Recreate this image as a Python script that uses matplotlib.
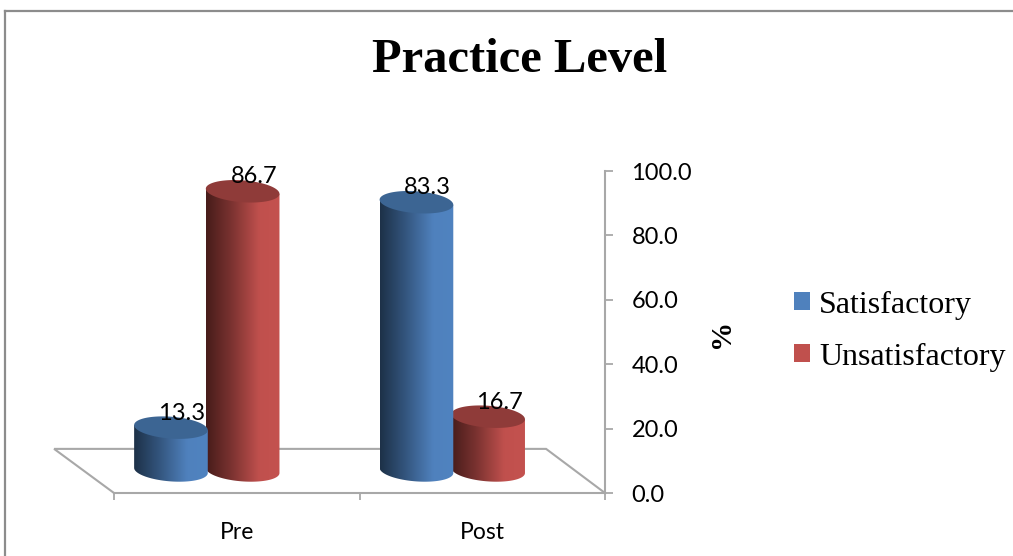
import numpy as np
import matplotlib

matplotlib.use("Agg")
import matplotlib.pyplot as plt
from matplotlib.colors import LinearSegmentedColormap
from matplotlib.lines import Line2D
from matplotlib.patches import Patch, Polygon

TITLE = "Practice Level"
categories = ["Pre", "Post"]
satisfactory = [13.3, 83.3]
unsatisfactory = [86.7, 16.7]
y_ticks = [0, 20, 40, 60, 80, 100]

GREY = "#a8a8a8"
BLUE = ["#1d3148", "#34567f", "#4f81bd", "#5083c0"]
RED = ["#471c1a", "#7c3331", "#c0504d", "#c4524f"]
BLUE_TOP = "#3c6593"
RED_TOP = "#8f3b39"

BAR_WIDTH = 0.30
GROUP_SHIFT = -0.122
BAR_GAP = 0.146
# floor of the 3d box sits below the cylinders
BASE = 7.0
CAP = 3.4
TILT = 0.8


def ellipse(cx, cy, t):
    x = cx + BAR_WIDTH / 2 * np.cos(t)
    y = cy + CAP * np.sin(t) - TILT * np.cos(t)
    return x, y


def draw_cylinder(ax, cx, value, colors, top_color, zorder):
    top = BASE + value

    t_low = np.linspace(np.pi, 2 * np.pi, 60)
    low_x, low_y = ellipse(cx, BASE, t_low)
    left_top = ellipse(cx, top, np.array([np.pi]))
    right_top = ellipse(cx, top, np.array([0.0]))
    body_x = np.concatenate([left_top[0], low_x, right_top[0]])
    body_y = np.concatenate([left_top[1], low_y, right_top[1]])

    cmap = LinearSegmentedColormap.from_list(
        "side", list(zip([0.0, 0.35, 0.72, 1.0], colors))
    )
    body = Polygon(np.column_stack([body_x, body_y]), closed=True, transform=ax.transData)
    image = ax.imshow(
        np.linspace(0, 1, 200).reshape(1, -1),
        cmap=cmap,
        aspect="auto",
        extent=(cx - BAR_WIDTH / 2, cx + BAR_WIDTH / 2, BASE - CAP - 2, top + 2),
        zorder=zorder,
    )
    image.set_clip_path(body)

    t_cap = np.linspace(0, 2 * np.pi, 120)
    cap_x, cap_y = ellipse(cx, top, t_cap)
    ax.fill(cap_x, cap_y, color=top_color, lw=0, zorder=zorder + 0.1, clip_on=False)


def add_label(ax, cx, value):
    ax.annotate(
        f"{value:.1f}",
        xy=(cx, BASE + value),
        xytext=(8, 10.5),
        textcoords="offset points",
        ha="center",
        va="center",
        fontsize=17,
        color="black",
        zorder=10,
    )


plt.rcParams["font.family"] = ["Lato", "DejaVu Sans"]
fig = plt.figure(figsize=(10.13, 5.56), dpi=100)
ax = fig.add_axes([114 / 1013, 1 - 493 / 556, 491 / 1013, 322 / 556])

# outer chart frame, open on the right and at the bottom
fig.add_artist(Line2D([5 / 1013, 5 / 1013], [0, 1 - 11 / 556], color="#8c8c8c", lw=1.6))
fig.add_artist(Line2D([5 / 1013, 1], [1 - 11 / 556, 1 - 11 / 556], color="#8c8c8c", lw=1.6))

# floor edges going back from the front axis line
ax.plot(
    [-0.5, -0.744, 1.26, 1.5],
    [0, 13.7, 13.7, 0],
    color=GREY,
    lw=1.5,
    clip_on=False,
    zorder=1,
    solid_joinstyle="miter",
)

for i in range(len(categories)):
    center = i + GROUP_SHIFT
    # satisfactory cylinder overlaps its neighbour, so it goes on last
    draw_cylinder(ax, center + BAR_GAP, unsatisfactory[i], RED, RED_TOP, 3)
    draw_cylinder(ax, center - BAR_GAP, satisfactory[i], BLUE, BLUE_TOP, 5)
    add_label(ax, center - BAR_GAP, satisfactory[i])
    add_label(ax, center + BAR_GAP, unsatisfactory[i])

ax.set_xlim(-0.5, 1.5)
ax.set_ylim(0, 100)

for side in ["top", "left"]:
    ax.spines[side].set_visible(False)
for side in ["right", "bottom"]:
    ax.spines[side].set_color(GREY)
    ax.spines[side].set_linewidth(1.5)

ax.yaxis.tick_right()
ax.set_yticks(y_ticks)
ax.set_yticklabels([f"{v:.1f}" for v in y_ticks], fontsize=17)
ax.tick_params(axis="y", length=6, width=1.3, color=GREY, pad=13)

ax.set_xticks([-0.5, 0.5, 1.5])
ax.set_xticklabels([])
ax.tick_params(axis="x", which="major", length=5, width=1.3, color=GREY)
ax.set_xticks(range(len(categories)), minor=True)
ax.set_xticklabels(categories, minor=True, fontsize=16.5)
ax.tick_params(axis="x", which="minor", length=0, pad=21)

fig.text(
    520 / 1013,
    1 - 60 / 556,
    TITLE,
    family="Liberation Serif",
    weight="bold",
    fontsize=35,
    ha="center",
    va="center",
)
fig.text(
    721 / 1013,
    1 - 333 / 556,
    "%",
    family="Liberation Serif",
    weight="bold",
    fontsize=21,
    rotation=90,
    ha="center",
    va="center",
)

handles = [Patch(color=BLUE[2], lw=0), Patch(color=RED[2], lw=0)]
fig.legend(
    handles,
    ["Satisfactory", "Unsatisfactory"],
    loc="center left",
    bbox_to_anchor=(794 / 1013, 1 - 331 / 556),
    frameon=False,
    borderpad=0,
    borderaxespad=0,
    handlelength=0.5,
    handleheight=0.5,
    handletextpad=0.29,
    labelspacing=0.72,
    prop={"family": "Liberation Serif", "size": 23},
)

fig.savefig("out.png", dpi=100)
